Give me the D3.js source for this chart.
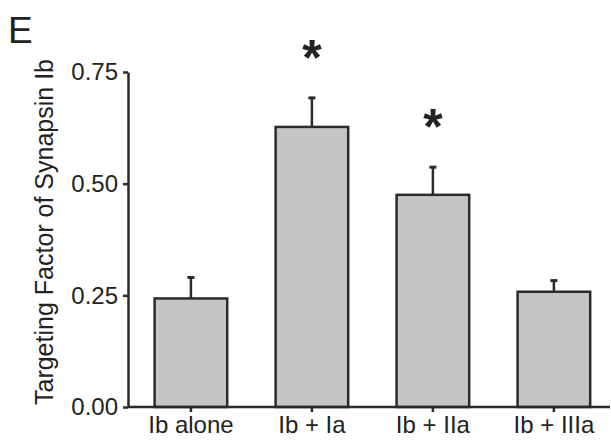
<!DOCTYPE html>
<html>
<head>
<meta charset="utf-8">
<script src="https://cdn.jsdelivr.net/npm/d3@7"></script>
<style>
  body { margin: 0; background: #fff; }
  text { font-family: "Liberation Sans", Arial, sans-serif; fill: #222; }
</style>
</head>
<body>
<svg id="chart" width="611" height="441"></svg>
<script>
// data
var categories = ["Ib alone", "Ib + Ia", "Ib + IIa", "Ib + IIIa"];
var means = [0.243, 0.627, 0.475, 0.258];
var sems = [0.047, 0.065, 0.062, 0.025];
var significant = [false, true, true, false];
var yTicks = [0, 0.25, 0.5, 0.75];

var svg = d3.select("#chart");
var ink = "#2b2b2b";

var x0 = 128, x1 = 610;
var yBottom = 407, yTop = 72;

var x = d3.scaleBand()
    .domain(categories)
    .range([x0, 616.8])
    .paddingInner(0.4)
    .paddingOuter(0.22);

var y = d3.scaleLinear()
    .domain([0, 0.75])
    .range([yBottom, yTop]);

var rows = categories.map(function(c, i) {
    return {cat: c, mean: means[i], sem: sems[i], sig: significant[i]};
});

function cx(d) { return x(d.cat) + x.bandwidth() / 2; }

// panel letter
svg.append("text")
    .attr("x", 8).attr("y", 43)
    .style("font-size", "37px")
    .text("E");

// y axis
var yAxis = svg.append("g")
    .attr("transform", "translate(" + x0 + ",0)")
    .call(d3.axisLeft(y).tickValues(yTicks).tickFormat(d3.format(".2f")).tickSize(5).tickSizeOuter(0).tickPadding(5));
yAxis.select(".domain").attr("stroke", ink).attr("stroke-width", 2.5);
yAxis.selectAll(".tick line").attr("stroke", ink).attr("stroke-width", 2.5);
yAxis.selectAll(".tick text")
    .style("font-size", "24px")
    .style("font-family", "Liberation Sans, Arial, sans-serif")
    .attr("fill", "#222");

// y title
svg.append("text")
    .attr("transform", "translate(53,232) rotate(-90)")
    .attr("text-anchor", "middle")
    .style("font-size", "25px")
    .text("Targeting Factor of Synapsin Ib");

// bars
svg.append("g").selectAll("rect")
    .data(rows)
    .enter().append("rect")
    .attr("x", function(d) { return x(d.cat); })
    .attr("y", function(d) { return y(d.mean); })
    .attr("width", x.bandwidth())
    .attr("height", function(d) { return yBottom - y(d.mean); })
    .attr("fill", "#c4c5c7")
    .attr("stroke", ink)
    .attr("stroke-width", 2.5);

// error bars (upper only)
var err = svg.append("g");
err.selectAll("line.stem")
    .data(rows)
    .enter().append("line")
    .attr("class", "stem")
    .attr("x1", cx).attr("x2", cx)
    .attr("y1", function(d) { return y(d.mean); })
    .attr("y2", function(d) { return y(d.mean + d.sem); })
    .attr("stroke", ink)
    .attr("stroke-width", 2.5);
err.selectAll("line.cap")
    .data(rows)
    .enter().append("line")
    .attr("class", "cap")
    .attr("x1", function(d) { return cx(d) - 3.5; })
    .attr("x2", function(d) { return cx(d) + 3.5; })
    .attr("y1", function(d) { return y(d.mean + d.sem); })
    .attr("y2", function(d) { return y(d.mean + d.sem); })
    .attr("stroke", ink)
    .attr("stroke-width", 3);

// significance stars
svg.append("g").selectAll("text")
    .data(rows.filter(function(d) { return d.sig; }))
    .enter().append("text")
    .attr("x", cx)
    .attr("y", function(d) { return y(d.mean + d.sem) - 23; })
    .attr("text-anchor", "middle")
    .style("font-size", "50px")
    .style("font-weight", "bold")
    .text("*");

// x axis
var xAxis = svg.append("g")
    .attr("transform", "translate(0," + yBottom + ")")
    .call(d3.axisBottom(x).tickSize(5).tickSizeOuter(0).tickPadding(4));
xAxis.select(".domain").attr("d", "M" + x0 + ",0H" + x1)
    .attr("stroke", ink).attr("stroke-width", 2.5);
xAxis.selectAll(".tick line").attr("stroke", ink).attr("stroke-width", 2.5);
xAxis.selectAll(".tick text")
    .style("font-size", "24px")
    .style("font-family", "Liberation Sans, Arial, sans-serif")
    .attr("fill", "#222");
</script>
</body>
</html>
